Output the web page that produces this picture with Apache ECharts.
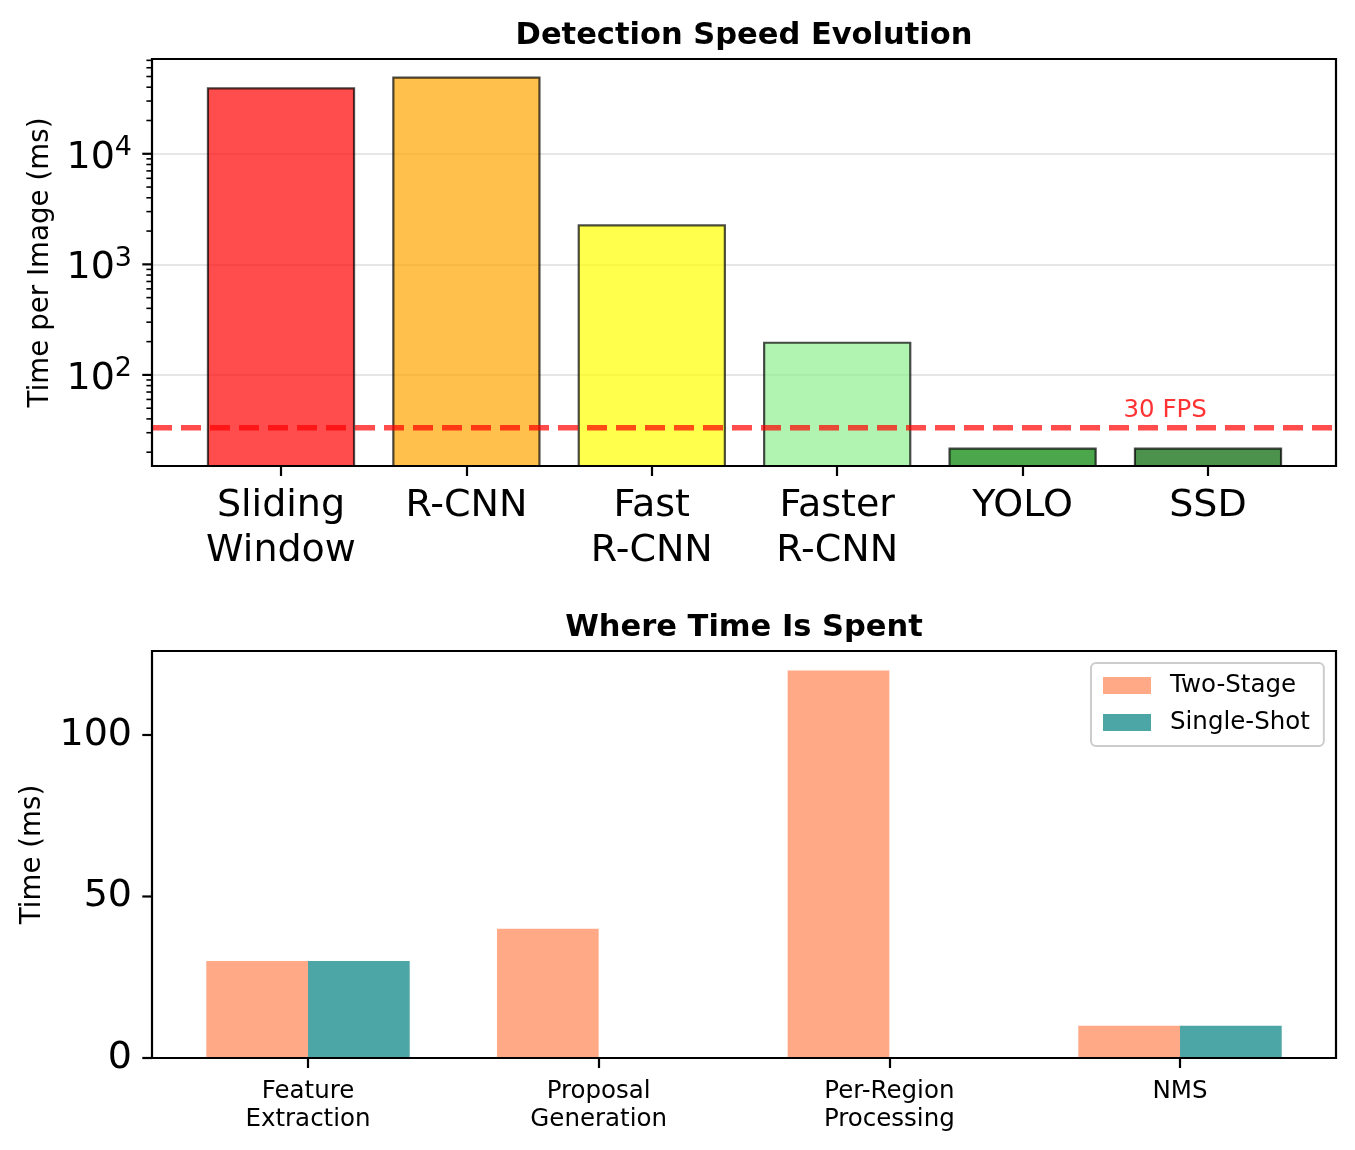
<!DOCTYPE html>
<html>
<head>
<meta charset="utf-8">
<script src="https://cdn.jsdelivr.net/npm/echarts@6/dist/echarts.min.js"></script>
<style>
html,body{margin:0;padding:0;background:#fff;}
#chart{width:1355px;height:1150px;}
</style>
</head>
<body>
<div id="chart"></div>
<script>
// ---- Data ----
const methods = ['Sliding\nWindow', 'R-CNN', 'Fast\nR-CNN', 'Faster\nR-CNN', 'YOLO', 'SSD'];
const timePerImage = [40000, 50000, 2300, 200, 22, 22];
const methodColors = ['rgba(255,0,0,0.7)', 'rgba(255,165,0,0.7)', 'rgba(255,255,0,0.7)',
                      'rgba(144,238,144,0.7)', 'rgba(0,128,0,0.7)', 'rgba(0,100,0,0.7)'];
const fps = 30;
const fpsLineMs = 1000 / fps;
const fpsLabel = '30 FPS';
const fpsLabelValue = 40;

const stages = ['Feature\nExtraction', 'Proposal\nGeneration', 'Per-Region\nProcessing', 'NMS'];
const twoStage = [30, 40, 120, 10];
const singleShot = [30, 0, 0, 10];

const logMajorTicks = [100, 1000, 10000];
const logMinorMultipliers = [2, 3, 4, 5, 6, 7, 8, 9];
const logDecades = [10, 100, 1000, 10000];
const bottomYTicks = [0, 50, 100];

const FONT = 'DejaVu Sans';
const chart = echarts.init(document.getElementById('chart'), null, {renderer: 'canvas'});

// tick data for the axes (drawn via the axis scales)
const logTickData = [];
logMajorTicks.forEach(v => logTickData.push([0, v, 9.7, 2.2]));
logDecades.forEach(d => logMinorMultipliers.forEach(m => {
  const v = d * m;
  if (v > 15 && v < 72000) logTickData.push([0, v, 5.6, 1.6]);
}));
const linTickData = bottomYTicks.map(v => [0, v, 9.7, 2.2]);

function isPow10(v) {
  const l = Math.log10(v);
  return Math.abs(l - Math.round(l)) < 1e-6;
}

function tickRender(params, api) {
  const p = api.coord([api.value(0), api.value(1)]);
  const len = api.value(2);
  return {type: 'line', shape: {x1: p[0] - len, y1: p[1], x2: p[0], y2: p[1]},
          style: {stroke: '#000', lineWidth: api.value(3)}};
}

const option = {
  backgroundColor: '#fff',
  textStyle: {fontFamily: FONT},
  animation: false,
  title: [
    {text: 'Detection Speed Evolution', left: 739, top: 16, textAlign: 'center',
     textStyle: {fontFamily: FONT, fontSize: 30.5, fontWeight: 'bold', color: '#000'}},
    {text: 'Where Time Is Spent', left: 739, top: 608, textAlign: 'center',
     textStyle: {fontFamily: FONT, fontSize: 30.5, fontWeight: 'bold', color: '#000'}}
  ],
  legend: {
    data: ['Two-Stage', 'Single-Shot'],
    orient: 'vertical',
    left: 1091, top: 663,
    padding: [10, 14, 11, 12],
    itemWidth: 48, itemHeight: 17, itemGap: 12,
    icon: 'rect',
    borderColor: '#cccccc', borderWidth: 2, borderRadius: 5,
    backgroundColor: '#fff',
    textStyle: {fontFamily: FONT, fontSize: 24.5, color: '#000', padding: [0, 0, 0, 14]}
  },
  grid: [
    {left: 152, right: 19, top: 59, bottom: 684, show: true, z: 10, borderColor: '#000', borderWidth: 2.2, backgroundColor: 'transparent'},
    {left: 188.3, right: 54.3, top: 59, bottom: 684},
    {left: 152, right: 19, top: 651, bottom: 92, show: true, z: 10, borderColor: '#000', borderWidth: 2.2, backgroundColor: 'transparent'},
    {left: 162.67, right: 29.67, top: 651, bottom: 92}
  ],
  xAxis: [
    {gridIndex: 0, type: 'value', min: 0, max: 1, show: false},
    {gridIndex: 1, type: 'category', data: methods,
     axisLine: {show: false},
     axisTick: {show: true, alignWithLabel: true, length: 10, lineStyle: {color: '#000', width: 2.2}},
     axisLabel: {interval: 0, fontFamily: FONT, fontSize: 38, lineHeight: 45.6, color: '#000', margin: 17}},
    {gridIndex: 2, type: 'value', min: 0, max: 1, show: false},
    {gridIndex: 3, type: 'category', data: stages,
     axisLine: {show: false},
     axisTick: {show: true, alignWithLabel: true, length: 10, lineStyle: {color: '#000', width: 2.2}},
     axisLabel: {interval: 0, fontFamily: FONT, fontSize: 24.5, lineHeight: 28, color: '#000', margin: 20}}
  ],
  yAxis: [
    {gridIndex: 0, type: 'log', logBase: 10, min: 15, max: 72000,
     name: 'Time per Image (ms)', nameLocation: 'middle', nameGap: 97,
     nameTextStyle: {fontFamily: FONT, fontSize: 27.7, color: '#000'},
     axisLine: {show: false}, axisTick: {show: false},
     splitLine: {show: true, lineStyle: {color: '#e6e6e6', width: 2}},
     axisLabel: {
       margin: 20, color: '#000',
       formatter: function (v) {
         if (!isPow10(v)) return '';
         return '{b|10}{s|' + Math.round(Math.log10(v)) + '}';
       },
       rich: {
         b: {fontFamily: FONT, fontSize: 38, lineHeight: 38, color: '#000', padding: [8, 0, 0, 0]},
         s: {fontFamily: FONT, fontSize: 27, lineHeight: 18, color: '#000', verticalAlign: 'top'}
       }
     }},
    {gridIndex: 1, type: 'log', logBase: 10, min: 15, max: 72000, show: false, splitLine: {show: false}},
    {gridIndex: 2, type: 'value', min: 0, max: 126, interval: 50,
     name: 'Time (ms)', nameLocation: 'middle', nameGap: 105,
     nameTextStyle: {fontFamily: FONT, fontSize: 27.7, color: '#000'},
     axisLine: {show: false},
     axisTick: {show: false},
     splitLine: {show: false},
     axisLabel: {margin: 20, fontFamily: FONT, fontSize: 38, color: '#000',
       formatter: function (v) { return bottomYTicks.indexOf(v) >= 0 ? String(v) : ''; }}},
    {gridIndex: 3, type: 'value', min: 0, max: 126, show: false}
  ],
  series: [
    {
      type: 'bar', xAxisIndex: 1, yAxisIndex: 1, barWidth: '80%', clip: true, z: 3,
      data: timePerImage.map((v, i) => ({
        value: v,
        itemStyle: {color: methodColors[i], borderColor: 'rgba(0,0,0,0.7)', borderWidth: 2.2}
      }))
    },
    {
      type: 'line', xAxisIndex: 0, yAxisIndex: 0, z: 5, symbol: 'none', silent: true,
      data: [[0, fpsLineMs], [1, fpsLineMs]],
      lineStyle: {color: 'rgba(255,0,0,0.7)', width: 5.5, type: [20, 9]}
    },
    {
      type: 'scatter', xAxisIndex: 1, yAxisIndex: 1, z: 6, symbolSize: 1, silent: true,
      itemStyle: {color: 'rgba(0,0,0,0)'},
      data: [[methods.length - 1, fpsLabelValue]],
      label: {show: true, formatter: fpsLabel, position: [-84, 5], align: 'left', verticalAlign: 'bottom',
              fontFamily: FONT, fontSize: 24.5, color: '#ff0000'}
    },
    {
      type: 'custom', xAxisIndex: 0, yAxisIndex: 0, z: 6, silent: true,
      data: logTickData, renderItem: tickRender
    },
    {
      type: 'custom', xAxisIndex: 2, yAxisIndex: 2, z: 6, silent: true,
      data: linTickData, renderItem: tickRender
    },
    {
      name: 'Two-Stage', type: 'bar', xAxisIndex: 3, yAxisIndex: 3, barWidth: 101.7, barGap: '0%',
      itemStyle: {color: 'rgba(255,160,122,0.9)'},
      data: twoStage
    },
    {
      name: 'Single-Shot', type: 'bar', xAxisIndex: 3, yAxisIndex: 3, barWidth: 101.7, barGap: '0%',
      itemStyle: {color: 'rgba(0,128,128,0.7)'},
      data: singleShot
    }
  ]
};
chart.setOption(option);
</script>
</body>
</html>
